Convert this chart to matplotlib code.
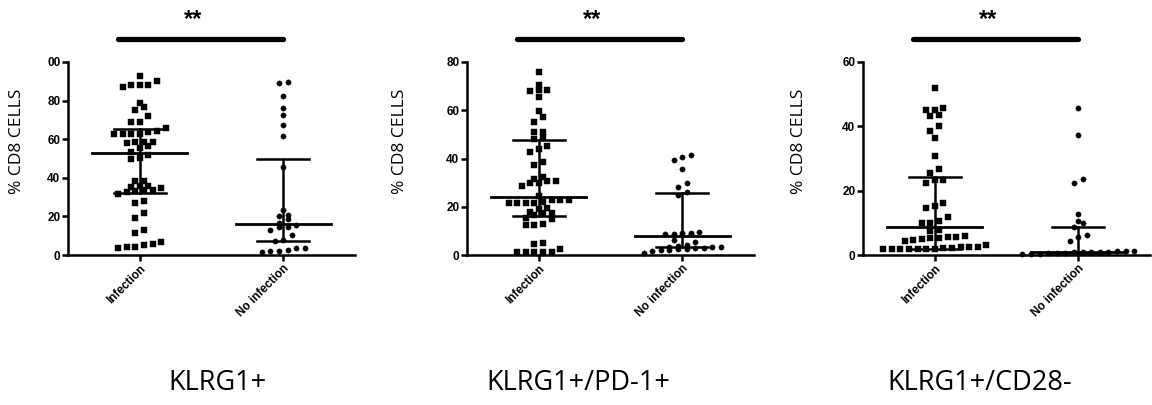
import numpy as np
import matplotlib
matplotlib.use("Agg")
import matplotlib.pyplot as plt

# ---- data ----
groups = ["Infection", "No infection"]
titles = ["KLRG1+", "KLRG1+/PD-1+", "KLRG1+/CD28-"]
ymax = [100, 80, 60]
ytick_labels = [["0", "20", "40", "60", "80", "00"],
                ["0", "20", "40", "60", "80"],
                ["0", "20", "40", "60"]]

klrg_inf = [92.6, 90, 88, 88, 87, 88, 79, 76.5, 75, 72, 69, 69, 65.6, 64.4, 63.5,
            62.6, 62.6, 62.6, 62.6, 58.8, 58.8, 58.3, 58, 56.7, 55.4, 53.6, 52, 50.2,
            49.7, 38.4, 38.4, 35.8, 35.5, 35, 34.6, 33.7, 33.7, 33.4, 32.9, 31.5, 28,
            27, 21.6, 19, 13, 11.6, 6.5, 5.5, 5.2, 4.3, 4.3, 3.5]
klrg_no = [89.6, 89, 82.5, 76, 72.7, 67.5, 61.4, 45.8, 23.4, 20.8, 20, 18.5, 16.8,
           15.6, 14.7, 14.4, 13, 10.4, 7.8, 7.4, 3.5, 3.5, 2.6, 2.2, 2.2, 1.7]

pd1_inf = [75.7, 70.6, 68.5, 68.5, 67.8, 65.3, 59.8, 57, 55, 50.8, 50.8, 49.1, 48,
           45, 43.9, 42.9, 38.5, 37.4, 32.5, 31.4, 30.7, 30.7, 30, 30, 28.4, 24.5,
           22.8, 22.8, 22.8, 22.1, 21.7, 21.5, 21.5, 21.5, 19.4, 19, 18, 17.3, 17.3,
           16.6, 15.2, 14.8, 12.9, 12.5, 12.5, 5.1, 4.4, 2.4, 1.4, 1.4, 1.4, 1.4, 1.4]
pd1_no = [41.5, 40.8, 39.2, 35.6, 30, 28.1, 26.3, 24.9, 9.5, 9.2, 9, 8.8, 8.8, 8.5,
          8.2, 6.2, 5.2, 4.3, 3.9, 3.5, 3.2, 3.2, 3.0, 3.0, 2.6, 2.6, 2.2, 2.2, 1.5, 1.0]

cd28_inf = [51.9, 45.7, 45.2, 45.2, 43.6, 43.3, 40.2, 38.6, 36.5, 30.8, 26.7, 25.4,
            23.4, 23.4, 22.3, 16.1, 15.1, 14.5, 11.7, 10.6, 10.1, 10.1, 7.8, 7.5, 5.9,
            5.5, 5.5, 5.2, 5.2, 4.9, 4.7, 4.2, 3.1, 2.6, 2.4, 2.4, 2.1, 2.1, 1.8, 1.8,
            1.8, 1.8, 1.8, 1.8, 1.8]
cd28_no = [45.7, 37.4, 23.6, 22.3, 12.8, 10.6, 9.9, 8.6, 6.2, 5.7, 4.5, 1.3, 1.2,
           1.1, 1.0, 1.0, 0.9, 0.8, 0.8, 0.7, 0.6, 0.5, 0.4, 0.3, 0.2]

# median, Q1, Q3 per group
medians = [[53, 16], [24.2, 7.9], [8.6, 1.0]]
q1 = [[32, 7], [16.3, 3.2], [1.8, 0.5]]
q3 = [[65.5, 49.7], [47.5, 25.9], [24.2, 8.6]]

panels = [(klrg_inf, klrg_no), (pd1_inf, pd1_no), (cd28_inf, cd28_no)]


def swarm_offsets(vals, row_h, step):
    """group sorted values into rows and spread each row around the centre"""
    vals = np.asarray(vals, float)
    order = np.argsort(vals)
    offs = np.zeros(len(vals))
    rows, cur, start = [], [], None
    for i in order:
        if cur and vals[i] - start >= row_h:
            rows.append(cur); cur = []
        if not cur:
            start = vals[i]
        cur.append(i)
    if cur:
        rows.append(cur)
    for r in rows:
        n = len(r)
        for k, i in enumerate(r):
            offs[i] = (k - (n - 1) / 2) * step
    return offs


W, H = 1152, 405
fig = plt.figure(figsize=(W / 100, H / 100), dpi=100)
lefts = [68, 467, 863]
ax_w, ax_b, ax_h = 287, 150, 193
label_x = [-0.15, -0.205, -0.195]
title_x = [217, 578, 980]
tick_font = dict(family="Liberation Sans", weight="bold", size=8.5)

for p, ax_left in enumerate(lefts):
    ax = fig.add_axes([ax_left / W, ax_b / H, ax_w / W, ax_h / H])
    top = ymax[p]
    row_h = 6 * top / ax_h
    for g, (vals, marker, ms) in enumerate(zip(panels[p], ["s", "o"], [5.0, 3.8])):
        x = g + swarm_offsets(vals, row_h, 0.06)
        ax.plot(x, vals, ls="none", marker=marker, ms=ms, color="black",
                mec="black", mew=0.3, clip_on=False, zorder=2)
        ax.plot([g - 0.33, g + 0.33], [medians[p][g]] * 2, color="black", lw=2, zorder=3)
        ax.plot([g - 0.18, g + 0.18], [q1[p][g]] * 2, color="black", lw=1.8, zorder=3)
        ax.plot([g - 0.18, g + 0.18], [q3[p][g]] * 2, color="black", lw=1.8, zorder=3)
        ax.plot([g, g], [q1[p][g], q3[p][g]], color="black", lw=1.8, zorder=3)

    ax.set_xlim(-0.5, 1.5)
    ax.set_ylim(0, top)
    ax.set_yticks(np.arange(0, top + 1, 20))
    ax.set_yticklabels(ytick_labels[p], fontdict=tick_font)
    ax.set_xticks([0, 1])
    ax.set_xticklabels(groups, rotation=45, ha="right", rotation_mode="anchor",
                       fontdict=dict(family="Liberation Sans", weight="bold", size=8.5))
    for s in ["top", "right"]:
        ax.spines[s].set_visible(False)
    for s in ["left", "bottom"]:
        ax.spines[s].set_linewidth(1.8)
    ax.tick_params(width=1.8, length=4, pad=1.5)
    ax.set_ylabel("% CD8 CELLS", family="Open Sans", fontsize=12.5)
    ax.yaxis.set_label_coords(label_x[p], 0.59)

    # significance bar + stars
    tr = ax.get_xaxis_transform()
    ax.plot([-0.15, 1.0], [1.12, 1.12], color="black", lw=3.8,
            solid_capstyle="round", transform=tr, clip_on=False)
    ax.text(0.37, 1.22, "**", transform=tr, ha="center", va="center",
            family="Liberation Sans", weight="bold", fontsize=17)

    fig.text(title_x[p] / W, 1 - 383 / H, titles[p], ha="center", va="center",
             family="Open Sans", fontsize=19.5)

fig.savefig("out.png", dpi=100)
